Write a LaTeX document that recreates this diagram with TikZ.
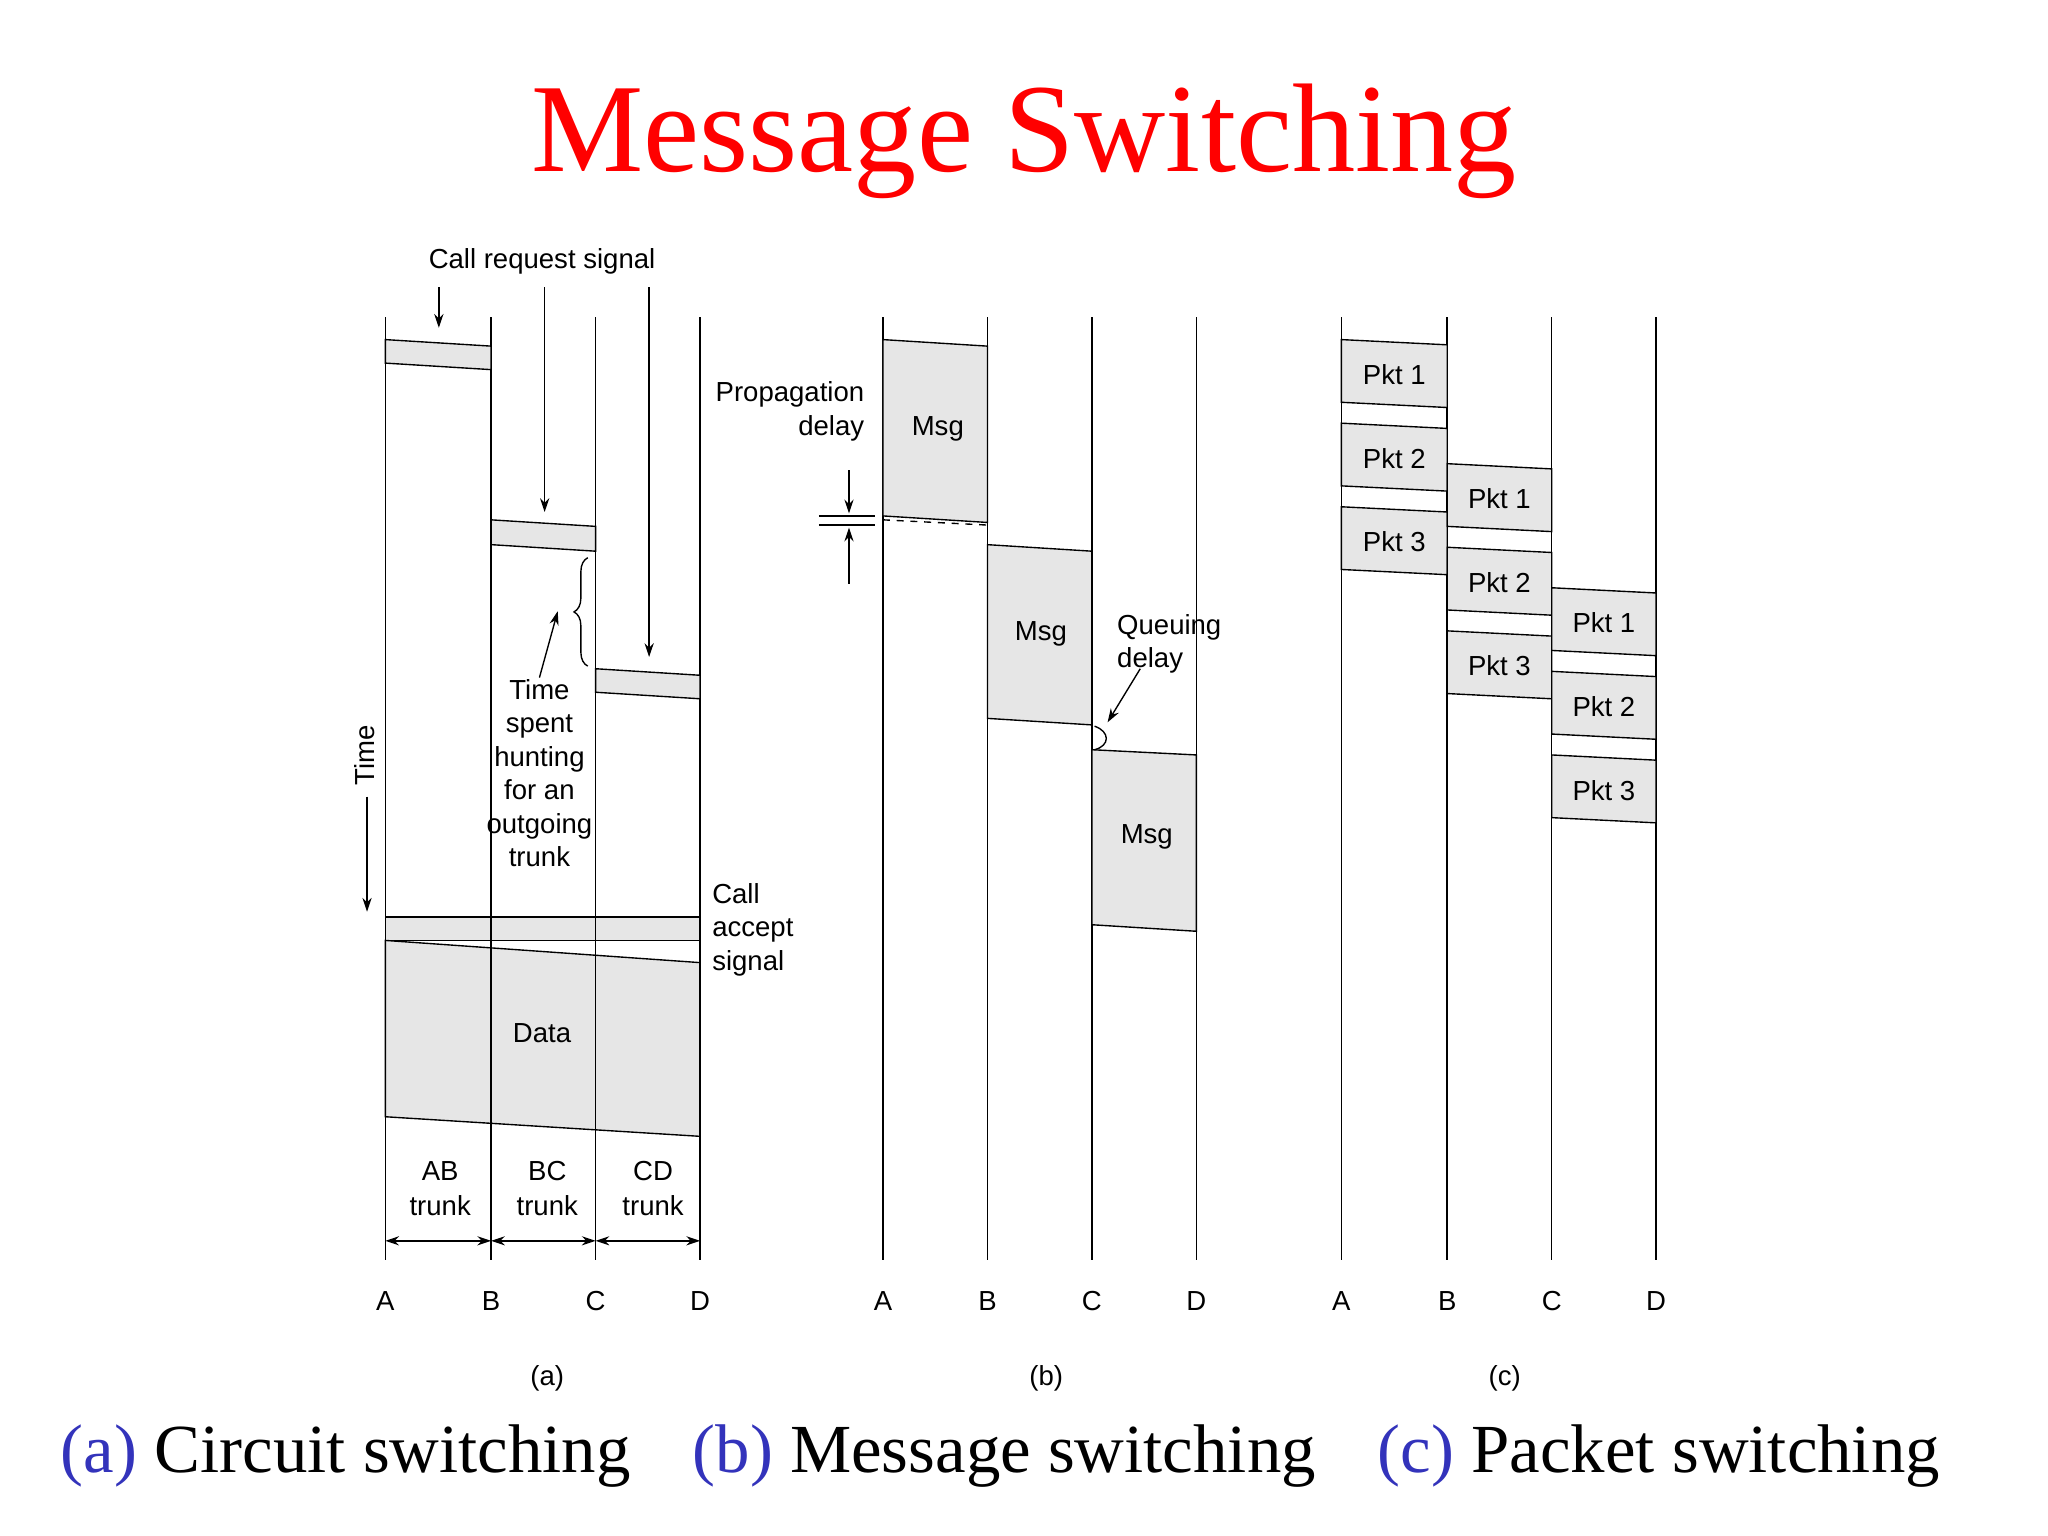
\documentclass[tikz,border=0pt]{standalone}
\usepackage{fontspec}
\setmainfont{Liberation Sans}
\newfontfamily\serif{Liberation Serif}
\usetikzlibrary{arrows.meta,decorations.pathreplacing}
\definecolor{boxg}{HTML}{E6E6E6}
\definecolor{capblue}{HTML}{3333BB}
\tikzset{x=0.02cm,y=-0.02cm,
 lbl/.style={font=\fontsize{12}{14}\selectfont,inner sep=0pt},
 bar/.style={fill=boxg,draw=black,line width=0.6pt},
 ln/.style={line width=0.7pt},
 arr/.style={line width=0.6pt,-{Stealth[length=6pt,width=4pt]}}}
\begin{document}
\begin{tikzpicture}
\useasboundingbox (0,0) rectangle (1568,1176);
\node[font=\serif\fontsize{55}{58}\selectfont,text=red] (title) at (784,108) {Message Switching};
% ---------- (a)
\foreach \x/\n in {295/A,376/B,456/C,536/D}{
 \draw[ln] (\x,243) -- (\x,965);
 \node[lbl] (a\n) at (\x,996) {\n};}
\draw[bar] (295,260) -- (376,265) -- (376,283) -- (295,278) -- cycle;
\draw[bar] (376,398) -- (456,403) -- (456,422) -- (376,417) -- cycle;
\draw[bar] (456,512) -- (536,517) -- (536,535) -- (456,530) -- cycle;
\draw[bar] (295,702) rectangle (536,720);
\draw[bar] (295,720) -- (536,737) -- (536,870) -- (295,855) -- cycle;
\foreach \x in {295,376,456,536} \draw[ln] (\x,700) -- (\x,872);
\node[lbl] (data) at (415,791) {Data};
\node[lbl] (crs) at (415,200) {Call request signal};
\coordinate (r1) at (336,220); \coordinate (r1e) at (336,251);
\coordinate (r2) at (417,220); \coordinate (r2e) at (417,392);
\coordinate (r3) at (497,220); \coordinate (r3e) at (497,503);
\draw[arr] (r1) -- (r1e); \draw[arr] (r2) -- (r2e); \draw[arr] (r3) -- (r3e);
\draw[line width=0.6pt,decorate,decoration={brace,amplitude=6pt}] (450,510) -- (450,427);
\node[lbl,align=center,font=\fontsize{12}{14.6}\selectfont] (hunt) at (413,592) {Time\\spent\\hunting\\for an\\outgoing\\trunk};
\coordinate (hb) at (427,468);
\draw[arr] (hunt.north) ++(0,-1) -- (hb);
\node[lbl,rotate=90] (time) at (279,578) {Time};
\coordinate (te) at (281,698);
\draw[arr] (281,610) -- (te);
\node[lbl,align=left,anchor=north west,font=\fontsize{12}{14.6}\selectfont] (cas) at (545,676) {Call\\accept\\signal};
\foreach \x/\t in {337/AB,419/BC,500/CD}
 \node[lbl,align=center,font=\fontsize{12}{15.5}\selectfont] at (\x,910) {\t\\trunk};
\draw[line width=0.6pt,{Stealth[length=6pt,width=4pt]}-{Stealth[length=6pt,width=4pt]}] (aA |- 0,950) -- (aB |- 0,950);
\draw[line width=0.6pt,{Stealth[length=6pt,width=4pt]}-{Stealth[length=6pt,width=4pt]}] (aB |- 0,950) -- (aC |- 0,950);
\draw[line width=0.6pt,{Stealth[length=6pt,width=4pt]}-{Stealth[length=6pt,width=4pt]}] (aC |- 0,950) -- (aD |- 0,950);
\node[lbl] (la) at (419,1055) {(a)};
% ---------- (b)
\foreach \x/\n in {676/A,756/B,836/C,916/D}{
 \draw[ln] (\x,243) -- (\x,965);
 \node[lbl] (b\n) at (\x,996) {\n};}
\draw[bar] (676,260) -- (756,265) -- (756,400) -- (676,395) -- cycle;
\draw[bar] (756,417) -- (836,422) -- (836,555) -- (756,550) -- cycle;
\draw[bar] (836,574) -- (916,578) -- (916,713) -- (836,708) -- cycle;
\node[lbl] (m1) at (718,328) {Msg};
\node[lbl] (m2) at (797,485) {Msg};
\node[lbl] (m3) at (878,641) {Msg};
\draw[line width=0.6pt] (627,395) -- (670,395);
\draw[line width=0.6pt] (627,402) -- (670,402);
\draw[line width=0.6pt,dashed] (676,398) -- (756,402);
\draw[arr] (650,360) -- (650,393);
\draw[arr] (650,447) -- (650,404);
\node[lbl,align=right,anchor=north east,font=\fontsize{12}{14.6}\selectfont] (pd) at (662,292) {Propagation\\delay};
\node[lbl,align=left,anchor=north west,font=\fontsize{12}{14.6}\selectfont] (qd) at (855,470) {Queuing\\delay};
\draw[line width=0.6pt] (838,556) .. controls (850,560) and (850,571) .. (838,574);
\coordinate (qe) at (848,553);
\draw[arr] (873,512) -- (qe);
\node[lbl] (lb) at (801,1055) {(b)};
% ---------- (c)
\foreach \x/\n in {1027/A,1108/B,1188/C,1268/D}{
 \draw[ln] (\x,243) -- (\x,965);
 \node[lbl] (c\n) at (\x,996) {\n};}
\foreach \xa/\xb/\y in {1027/1108/260,1108/1188/355,1188/1268/450}{
 \foreach \k/\o in {1/0,2/64,3/128}{
  \pgfmathsetmacro\t{\y+\o}
  \draw[bar] (\xa,\t) -- (\xb,\t+4) -- (\xb,\t+52) -- (\xa,\t+48) -- cycle;
  \node[lbl] at ({(\xa+\xb)/2},\t+27) {Pkt \k};}}
\node[lbl] (lc) at (1152,1055) {(c)};
% caption
\node[font=\serif\fontsize{30}{33}\selectfont,inner sep=0pt] (cap) at (766,1115)
 {\textcolor{capblue}{(a)} Circuit switching\hspace{0.9em}\textcolor{capblue}{(b)} Message switching\hspace{0.9em}\textcolor{capblue}{(c)} Packet switching};
\end{tikzpicture}
\end{document}
